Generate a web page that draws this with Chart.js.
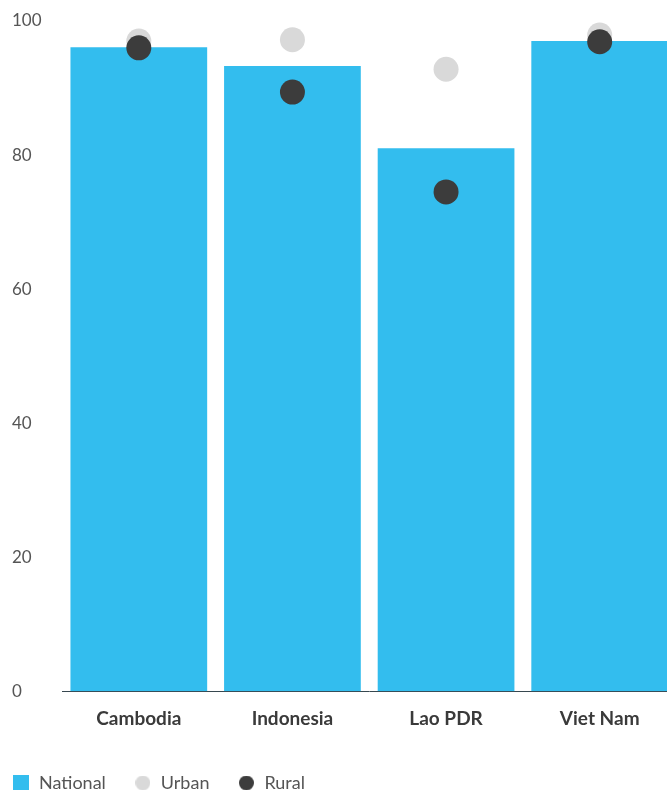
<!DOCTYPE html>
<html>
<head>
<meta charset="utf-8">
<script src="https://cdn.jsdelivr.net/npm/chart.js@4"></script>
<style>
  html, body { margin: 0; padding: 0; background: #fff; overflow: hidden; }
  #wrap { position: absolute; left: -8px; top: 0; width: 697px; height: 790px; }
</style>
</head>
<body>
<div id="wrap"><canvas id="chart"></canvas></div>
<script>
const countries = ["Cambodia", "Indonesia", "Lao PDR", "Viet Nam"];
const national = [96.1, 93.3, 81.0, 97.0];
const urban = [97.0, 97.2, 92.8, 97.9];
const rural = [96.0, 89.4, 74.5, 96.9];
const yTicks = [0, 20, 40, 60, 80, 100];

const FONT = "Lato, 'DejaVu Sans', sans-serif";

// small round marker for the legend
function dot(color, size) {
  const c = document.createElement("canvas");
  c.width = size;
  c.height = size;
  const ctx = c.getContext("2d");
  ctx.fillStyle = color;
  ctx.beginPath();
  ctx.arc(size / 2, size / 2, size / 2, 0, Math.PI * 2);
  ctx.fill();
  return c;
}

document.addEventListener("DOMContentLoaded", () => {
  new Chart(document.getElementById("chart"), {
    data: {
      labels: countries,
      datasets: [
        {
          type: "bar",
          label: "National",
          data: national,
          backgroundColor: "#33bdee",
          barPercentage: 0.89,
          categoryPercentage: 1,
          pointStyle: "rect",
          order: 3,
        },
        {
          type: "line",
          label: "Urban",
          data: urban,
          showLine: false,
          pointRadius: 12.5,
          pointBackgroundColor: "#d9d9d9",
          pointBorderWidth: 0,
          backgroundColor: "#d9d9d9",
          borderColor: "#d9d9d9",
          pointStyle: "circle",
          order: 2,
        },
        {
          type: "line",
          label: "Rural",
          data: rural,
          showLine: false,
          pointRadius: 12.5,
          pointBackgroundColor: "#3c3c3c",
          pointBorderWidth: 0,
          backgroundColor: "#3c3c3c",
          borderColor: "#3c3c3c",
          pointStyle: "circle",
          order: 1,
        },
      ],
    },
    options: {
      responsive: true,
      maintainAspectRatio: false,
      animation: false,
      layout: { padding: { top: 21, right: 0, bottom: -12, left: -8 } },
      plugins: {
        tooltip: { enabled: false },
        legend: {
          position: "bottom",
          align: "start",
          labels: {
            usePointStyle: true,
            boxHeight: 16,
            padding: 28,
            color: "#555",
            font: { family: FONT, size: 18 },
            sort: (a, b) => a.datasetIndex - b.datasetIndex,
            generateLabels: (chart) => {
              const items = Chart.defaults.plugins.legend.labels.generateLabels(chart);
              items.forEach((it) => {
                if (it.datasetIndex > 0) {
                  it.pointStyle = dot(chart.data.datasets[it.datasetIndex].pointBackgroundColor, 15);
                }
              });
              return items;
            },
          },
        },
      },
      scales: {
        x: {
          grid: { display: false, drawTicks: false },
          border: { display: true, color: "#37474f", width: 1 },
          ticks: {
            padding: 16,
            color: "#3a3a3a",
            font: { family: FONT, size: 19, weight: "bold" },
          },
        },
        y: {
          min: 0,
          max: 100,
          afterBuildTicks: (axis) => {
            axis.ticks = yTicks.map((v) => ({ value: v }));
          },
          afterFit: (axis) => {
            axis.width = 78;
          },
          grid: { display: false, drawTicks: false },
          border: { display: false },
          ticks: {
            mirror: true,
            crossAlign: "near",
            padding: -50,
            color: "#555",
            font: { family: FONT, size: 17 },
          },
        },
      },
    },
  });
});
</script>
</body>
</html>
